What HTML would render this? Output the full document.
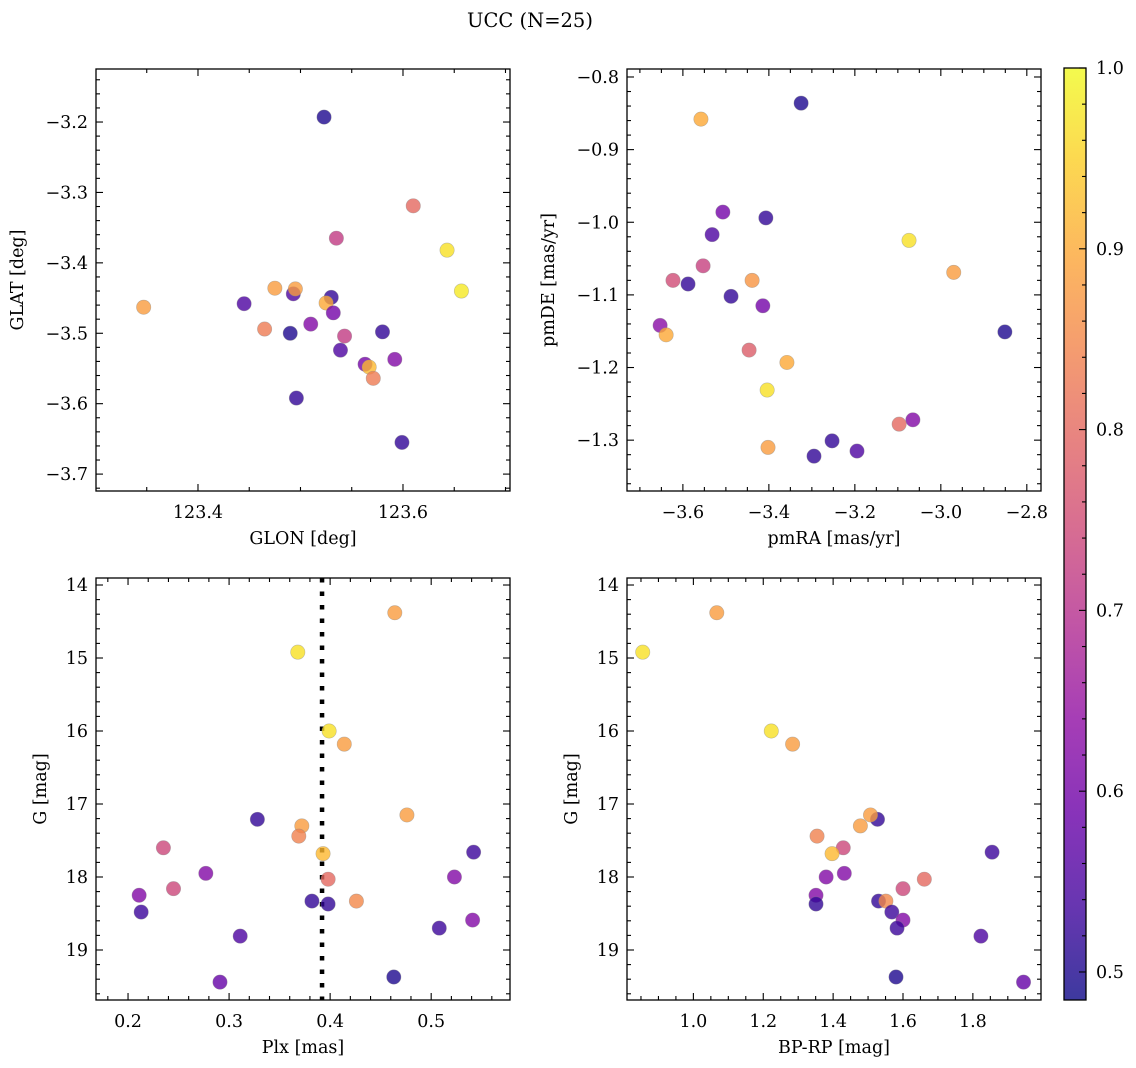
<!DOCTYPE html>
<html><head><meta charset="utf-8"><style>
html,body{margin:0;padding:0;background:#fff;}
svg{display:block;font-family:"DejaVu Serif","Liberation Serif",serif;}
</style></head><body>
<svg id="fig" width="1136" height="1068" viewBox="0 0 1136 1068" xmlns="http://www.w3.org/2000/svg">
<text x="530" y="27" font-size="19.5" text-anchor="middle">UCC (N=25)</text>
</svg>
<script>
// Panel 1: GLON/GLAT
const glon = [123.523,123.610,123.535,123.643,123.657,123.445,123.475,123.493,123.495,123.530,123.525,123.532,123.510,123.465,123.490,123.543,123.580,123.539,123.563,123.567,123.592,123.571,123.347,123.496,123.599];
const glat = [-3.193,-3.319,-3.365,-3.382,-3.440,-3.458,-3.436,-3.444,-3.437,-3.449,-3.457,-3.471,-3.487,-3.494,-3.500,-3.504,-3.498,-3.524,-3.544,-3.548,-3.537,-3.564,-3.463,-3.592,-3.655];
const prob1 = [0.50,0.80,0.72,0.97,0.98,0.55,0.88,0.55,0.88,0.52,0.90,0.60,0.62,0.83,0.50,0.72,0.52,0.55,0.60,0.92,0.62,0.83,0.88,0.52,0.52];
// Panel 2: pmRA/pmDE
const pmra = [-3.325,-3.558,-3.507,-3.407,-3.532,-3.074,-3.623,-3.553,-3.588,-3.439,-3.488,-2.970,-3.414,-2.851,-3.653,-3.639,-3.446,-3.358,-3.404,-3.402,-3.065,-3.097,-3.253,-3.295,-3.195];
const pmde = [-0.836,-0.858,-0.986,-0.994,-1.017,-1.025,-1.080,-1.060,-1.085,-1.080,-1.102,-1.069,-1.115,-1.151,-1.142,-1.155,-1.176,-1.193,-1.231,-1.310,-1.272,-1.278,-1.301,-1.322,-1.315];
const prob2 = [0.50,0.90,0.60,0.52,0.55,0.97,0.75,0.73,0.52,0.87,0.52,0.88,0.60,0.50,0.63,0.90,0.78,0.90,0.97,0.88,0.62,0.80,0.52,0.52,0.55];
// Panels 3/4: shared stars
const gmag = [14.38,14.92,16.00,16.18,17.21,17.15,17.30,17.44,17.60,17.68,17.66,17.95,18.03,18.00,18.16,18.25,18.33,18.33,18.37,18.48,18.59,18.70,18.81,19.37,19.44];
const plx = [0.464,0.368,0.399,0.414,0.328,0.476,0.372,0.369,0.235,0.393,0.542,0.277,0.398,0.523,0.245,0.211,0.382,0.426,0.398,0.213,0.541,0.508,0.311,0.463,0.291];
const bprp = [1.067,0.855,1.223,1.284,1.527,1.507,1.478,1.354,1.429,1.397,1.855,1.432,1.661,1.380,1.600,1.351,1.530,1.551,1.351,1.568,1.600,1.583,1.823,1.580,1.945];
const prob34 = [0.88,0.97,0.97,0.88,0.52,0.88,0.88,0.84,0.74,0.92,0.53,0.62,0.80,0.62,0.74,0.62,0.52,0.85,0.52,0.53,0.62,0.53,0.55,0.50,0.58];
const plxLine = 0.392;
const cbTicks = [0.5,0.6,0.7,0.8,0.9,1.0];
const VMIN = 0.4845, VMAX = 1.0;

const NS = "http://www.w3.org/2000/svg";
const svg = document.getElementById('fig');
const FS = 17.5;
const stops = [[13,8,135],[65,4,157],[106,0,168],[143,13,164],[177,42,144],[204,71,120],[225,100,98],[242,132,75],[252,166,54],[252,206,37],[240,249,33]];
function plasma(t){t=Math.max(0,Math.min(1,t));const f=t*10;const i=Math.min(9,Math.floor(f));const u=f-i;const a=stops[i],b=stops[i+1];
return 'rgb('+[0,1,2].map(k=>Math.round(a[k]+(b[k]-a[k])*u)).join(',')+')';}
function col(p){return plasma((p-VMIN)/(VMAX-VMIN));}
function mk(tag,attrs,parent){const e=document.createElementNS(NS,tag);for(const k in attrs)e.setAttribute(k,attrs[k]);(parent||svg).appendChild(e);return e;}
function fmt(v,d){let s=v.toFixed(d);return s.replace('-','\u2212');}

function panel(cfg){
  const g=mk('g',{});
  
  
  const {x0,x1,y0,y1,xmin,xmax,ymin,ymax,inv}=cfg;
  const sx=v=>x0+(v-xmin)/(xmax-xmin)*(x1-x0);
  const sy=v=>inv? y0+(v-ymin)/(ymax-ymin)*(y1-y0) : y1-(v-ymin)/(ymax-ymin)*(y1-y0);
  if(cfg.vline!==undefined){
    const l=mk('line',{x1:sx(cfg.vline),x2:sx(cfg.vline),y1:y0,y2:y1,stroke:'#000','stroke-width':4.5,'stroke-dasharray':'4.5 9'},g);
    
    
  }
  for(let i=0;i<cfg.xs.length;i++){
    const c=mk('circle',{cx:sx(cfg.xs[i]),cy:sy(cfg.ys[i]),r:7.2,fill:col(cfg.ps[i]),'fill-opacity':0.8,stroke:'#888','stroke-opacity':0.5,'stroke-width':0.6},g);
    
    
  }
  const fr=mk('rect',{x:x0,y:y0,width:x1-x0,height:y1-y0,fill:'none',stroke:'#000','stroke-width':1.3},g);
  
  
  const eps=1e-9;
  for(let k=Math.ceil((xmin)/cfg.xminor-eps);k*cfg.xminor<=xmax+eps;k++){
    const v=k*cfg.xminor; const X=sx(v);
    const major=Math.abs(v/cfg.xmajor-Math.round(v/cfg.xmajor))<1e-6;
    const L=major?7:4;
    mk('line',{x1:X,x2:X,y1:y1,y2:y1-L,stroke:'#000','stroke-width':1.1},g);
    mk('line',{x1:X,x2:X,y1:y0,y2:y0+L,stroke:'#000','stroke-width':1.1},g);
    if(major){const t=mk('text',{x:X,y:y1+27,'font-size':FS,'text-anchor':'middle'},g);t.textContent=fmt(v,cfg.xd);
      
      }
  }
  for(let k=Math.ceil((Math.min(ymin,ymax))/cfg.yminor-eps);k*cfg.yminor<=Math.max(ymin,ymax)+eps;k++){
    const v=k*cfg.yminor; const Y=sy(v);
    const major=Math.abs(v/cfg.ymajor-Math.round(v/cfg.ymajor))<1e-6;
    const L=major?7:4;
    mk('line',{x1:x0,x2:x0+L,y1:Y,y2:Y,stroke:'#000','stroke-width':1.1},g);
    mk('line',{x1:x1,x2:x1-L,y1:Y,y2:Y,stroke:'#000','stroke-width':1.1},g);
    if(major){const t=mk('text',{x:x0-8,y:Y+6,'font-size':FS,'text-anchor':'end'},g);t.textContent=fmt(v,cfg.yd);
      
      }
  }
  const xl=mk('text',{x:(x0+x1)/2,y:y1+53,'font-size':FS,'text-anchor':'middle'},g);xl.textContent=cfg.xlabel;
  
  
  const cy=(y0+y1)/2;
  const yl=mk('text',{x:cfg.ylx,y:cy,'font-size':FS,'text-anchor':'middle',transform:'rotate(-90 '+cfg.ylx+' '+cy+')'},g);yl.textContent=cfg.ylabel;
  
  
}

panel({name:'glon-glat-panel',x0:96,x1:510,y0:69,y1:491,xmin:123.3005,xmax:123.7044,ymin:-3.724,ymax:-3.1247,xmajor:0.2,xminor:0.05,ymajor:0.1,yminor:0.02,xd:1,yd:1,xs:glon,ys:glat,ps:prob1,xlabel:'GLON [deg]',ylabel:'GLAT [deg]',ylx:23});
panel({name:'pm-panel',x0:627,x1:1041,y0:69,y1:491,xmin:-3.730,xmax:-2.767,ymin:-1.370,ymax:-0.789,xmajor:0.2,xminor:0.05,ymajor:0.1,yminor:0.02,xd:1,yd:1,xs:pmra,ys:pmde,ps:prob2,xlabel:'pmRA [mas/yr]',ylabel:'pmDE [mas/yr]',ylx:554});
panel({name:'plx-g-panel',x0:96,x1:510,y0:578,y1:1000,xmin:0.1683,xmax:0.578,ymin:13.904,ymax:19.685,inv:true,xmajor:0.1,xminor:0.02,ymajor:1,yminor:0.2,xd:1,yd:0,xs:plx,ys:gmag,ps:prob34,xlabel:'Plx [mas]',ylabel:'G [mag]',ylx:46,vline:plxLine});
panel({name:'cmd-panel',x0:627,x1:1041,y0:578,y1:1000,xmin:0.81,xmax:1.995,ymin:13.904,ymax:19.685,inv:true,xmajor:0.2,xminor:0.05,ymajor:1,yminor:0.2,xd:1,yd:0,xs:bprp,ys:gmag,ps:prob34,xlabel:'BP-RP [mag]',ylabel:'G [mag]',ylx:577});

// colorbar
(function(){
  const cx0=1064,cx1=1086,cy0=68,cy1=1000;
  const g=mk('g',{});
  
  
  const defs=mk('defs',{},g);
  const lg=mk('linearGradient',{id:'cbg',x1:0,y1:1,x2:0,y2:0},defs);
  for(let i=0;i<=20;i++){mk('stop',{offset:i/20,'stop-color':plasma(i/20)},lg);}
  mk('rect',{x:cx0,y:cy0,width:cx1-cx0,height:cy1-cy0,fill:'url(#cbg)','fill-opacity':0.8},g);
  mk('rect',{x:cx0,y:cy0,width:cx1-cx0,height:cy1-cy0,fill:'none',stroke:'#000','stroke-width':1.3},g);
  const sy=v=>cy1-(v-VMIN)/(VMAX-VMIN)*(cy1-cy0);
  for(let k=Math.ceil(VMIN/0.02);k*0.02<=VMAX+1e-9;k++){
    const v=k*0.02;const Y=sy(v);const major=(k%5===0);
    mk('line',{x1:cx1,x2:cx1-(major?7:4),y1:Y,y2:Y,stroke:'#000','stroke-width':1.1},g);
  }
  cbTicks.forEach(v=>{const t=mk('text',{x:cx1+10,y:sy(v)+6,'font-size':FS},g);t.textContent=v.toFixed(1);
    
    });
})();
</script>
</body></html>
